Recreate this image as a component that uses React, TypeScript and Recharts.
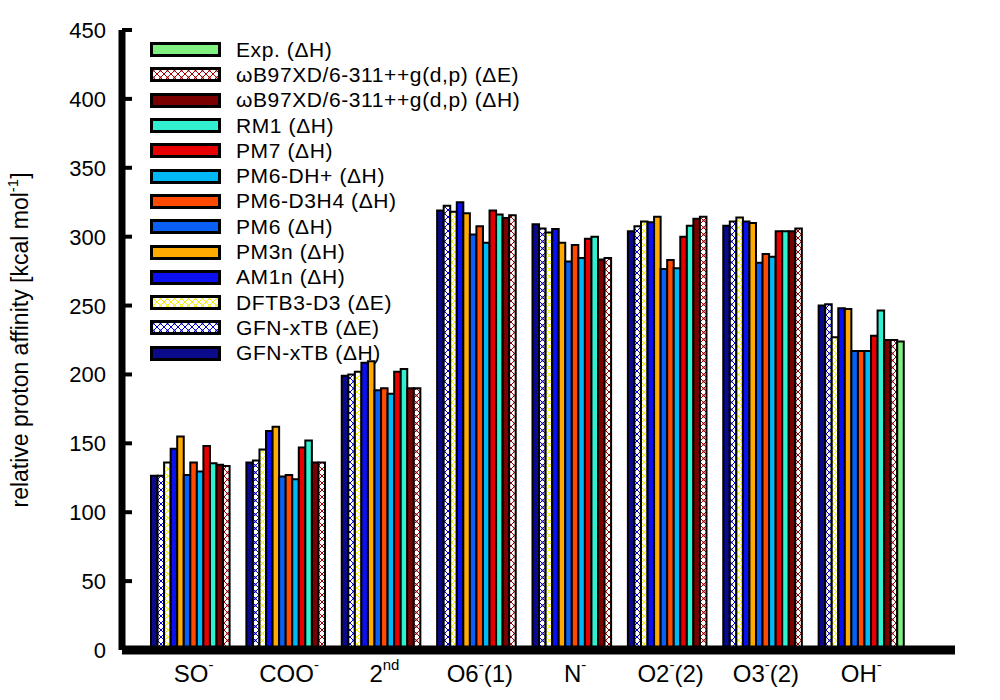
import React from "react";
import { BarChart, Bar, XAxis, YAxis } from "recharts";

// ---------------------------------------------------------------------------
// Data
// ---------------------------------------------------------------------------

const categories = ["SO", "COO", "2", "O6", "N", "O2", "O3", "OH"];
const catSup = ["-", "-", "nd", "-", "-", "-", "-", "-"];
const catTail = ["", "", "", "(1)", "", "(2)", "(2)", ""];

const gfnH = [126.5, 136, 199, 319, 309, 304, 308, 250];
const gfnE = [126.5, 137.5, 200, 322.5, 306, 307.5, 311, 251];
const dftb = [136, 145.5, 202, 318, 303, 311, 314, 227];
const am1n = [146, 159, 208.5, 325, 305.5, 310.5, 311, 248];
const pm3n = [155, 162, 209.5, 317, 295.5, 314.5, 310, 247.5];
const pm6 = [127, 126, 188.5, 301.5, 282, 276.5, 281, 217];
const pm6d3h4 = [136, 127, 190, 307.5, 294, 283, 287.5, 217];
const pm6dh = [129.5, 124, 186, 295.5, 284.5, 277, 285.5, 217];
const pm7 = [148, 147, 202, 319, 298.5, 300, 304, 228];
const rm1 = [135.5, 152, 204, 316, 300, 308, 304, 246.5];
const wbH = [134.5, 136, 190, 313.5, 283.5, 313, 304, 225];
const wbE = [133.5, 136, 190, 315.5, 284.5, 314.5, 306, 225];
const expH = [null, null, null, null, null, null, null, 224];

const yTicks = [0, 50, 100, 150, 200, 250, 300, 350, 400, 450];

// series, left to right inside a group
const series = [
  { key: "gfnH", label: "GFN-xTB (\u0394H)", values: gfnH, color: "#0a0a8a" },
  { key: "gfnE", label: "GFN-xTB (\u0394E)", values: gfnE, color: "#0000c8", hatch: true },
  { key: "dftb", label: "DFTB3-D3 (\u0394E)", values: dftb, color: "#f0f000", hatch: true },
  { key: "am1n", label: "AM1n (\u0394H)", values: am1n, color: "#0a10f0" },
  { key: "pm3n", label: "PM3n (\u0394H)", values: pm3n, color: "#ffaa00" },
  { key: "pm6", label: "PM6 (\u0394H)", values: pm6, color: "#0a60f5" },
  { key: "pm6d3h4", label: "PM6-D3H4 (\u0394H)", values: pm6d3h4, color: "#ff4a00" },
  { key: "pm6dh", label: "PM6-DH+ (\u0394H)", values: pm6dh, color: "#00b8f5" },
  { key: "pm7", label: "PM7 (\u0394H)", values: pm7, color: "#e80000" },
  { key: "rm1", label: "RM1 (\u0394H)", values: rm1, color: "#30f0d0" },
  { key: "wbH", label: "\u03c9B97XD/6-311++g(d,p) (\u0394H)", values: wbH, color: "#7a0000" },
  { key: "wbE", label: "\u03c9B97XD/6-311++g(d,p) (\u0394E)", values: wbE, color: "#a00000", hatch: true },
  { key: "exp", label: "Exp. (\u0394H)", values: expH, color: "#80f080" },
];

const data = categories.map((c, i) => {
  const row: Record<string, any> = { name: c, idx: i };
  series.forEach((s) => {
    row[s.key] = s.values[i];
  });
  return row;
});

const FONT = "'Liberation Sans', Arial, Helvetica, sans-serif";

const Hatch = ({ id, color }: { id: string; color: string }) => (
  <pattern id={id} width="7" height="7" patternUnits="userSpaceOnUse">
    <rect width="7" height="7" fill="#ffffff" />
    <path d="M0,0 L7,7 M7,0 L0,7" stroke={color} strokeWidth={1} />
    <circle cx="3.5" cy="3.5" r="1" fill={color} />
  </pattern>
);

const fillOf = (s: any, prefix: string) =>
  s.hatch ? `url(#${prefix}-${s.key})` : s.color;

const XTick = (props: any) => {
  const { x, y, payload } = props;
  const i = payload.index ?? categories.indexOf(payload.value);
  return (
    <text
      x={x}
      y={y + 32}
      textAnchor="middle"
      fontFamily={FONT}
      fontSize={24}
      fill="#000"
    >
      {categories[i]}
      <tspan fontSize={15} dy={-12}>
        {catSup[i]}
      </tspan>
      {catTail[i] && <tspan dy={12}>{catTail[i]}</tspan>}
    </text>
  );
};

const YTick = (props: any) => {
  const { x, y, payload } = props;
  return (
    <g>
      <line x1={x} x2={x + 10} y1={y} y2={y} stroke="#000" strokeWidth={4} />
      <text
        x={x - 16}
        y={y + 8}
        textAnchor="end"
        fontFamily={FONT}
        fontSize={22}
        fill="#000"
      >
        {payload.value}
      </text>
    </g>
  );
};

const YLabel = () => (
  <text
    x={28}
    y={340}
    transform="rotate(-90 28 340)"
    textAnchor="middle"
    fontFamily={FONT}
    fontSize={23}
    fill="#000"
  >
    relative proton affinity [kcal mol
    <tspan fontSize={15} dy={-10}>-1</tspan>
    <tspan dy={10}>]</tspan>
  </text>
);

const LegendBox = () => (
  <div
    style={{
      position: "absolute",
      left: 150,
      top: 37,
      fontFamily: FONT,
      fontSize: 21,
      letterSpacing: 0.6,
      color: "#000",
    }}
  >
    {[...series].reverse().map((s) => (
      <div
        key={s.key}
        style={{ display: "flex", alignItems: "center", height: 25.3 }}
      >
        <svg width={71} height={15} style={{ display: "block" }}>
          <defs>{s.hatch && <Hatch id={`lg-${s.key}`} color={s.color} />}</defs>
          <rect
            x={1.5}
            y={1.5}
            width={68}
            height={12}
            fill={fillOf(s, "lg")}
            stroke="#000"
            strokeWidth={3}
          />
        </svg>
        <span style={{ marginLeft: 15, whiteSpace: "nowrap" }}>{s.label}</span>
      </div>
    ))}
  </div>
);

export default function App() {
  return (
    <div style={{ position: "absolute", left: 0, top: 0, width: 1000, height: 700, background: "#fff" }}>
      <BarChart
        width={1000}
        height={700}
        data={data}
        margin={{ top: 30, right: 45, bottom: 0, left: 0 }}
        barSize={6.55}
        barGap={0}
      >
        <defs>
          {series
            .filter((s) => s.hatch)
            .map((s) => (
              <Hatch key={s.key} id={`bar-${s.key}`} color={s.color} />
            ))}
        </defs>
        <XAxis
          dataKey="name"
          height={50}
          padding={{ left: 24, right: 46 }}
          axisLine={{ stroke: "#000", strokeWidth: 9 }}
          tickLine={false}
          tickSize={0}
          tickMargin={0}
          tick={<XTick />}
          interval={0}
        />
        <YAxis
          width={122}
          domain={[0, 450]}
          ticks={yTicks}
          allowDataOverflow
          axisLine={{ stroke: "#000", strokeWidth: 7 }}
          tickLine={false}
          tickSize={0}
          tickMargin={0}
          tick={<YTick />}
          label={<YLabel />}
        />
        {series.map((s) => (
          <Bar
            key={s.key}
            dataKey={s.key}
            fill={fillOf(s, "bar")}
            stroke="#000"
            strokeWidth={2}
            isAnimationActive={false}
          />
        ))}
      </BarChart>
      <LegendBox />
    </div>
  );
}
